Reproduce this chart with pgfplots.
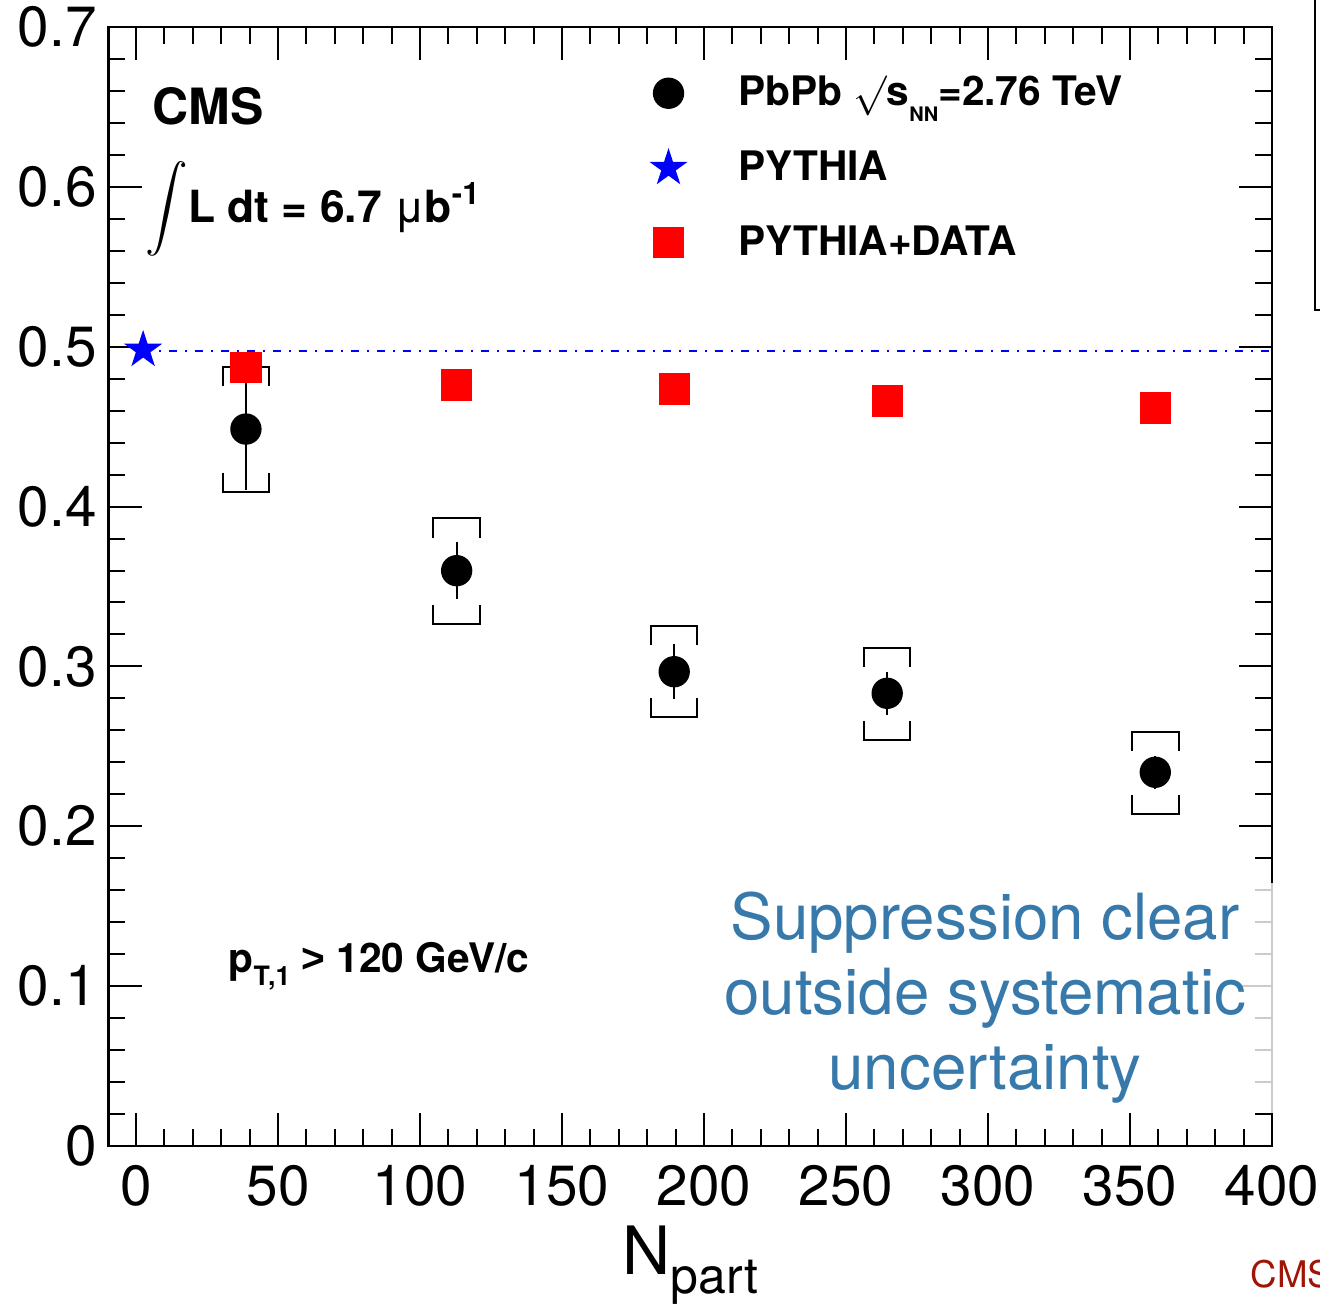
\documentclass[border=0pt]{standalone}
\usepackage{pgfplots}
\pgfplotsset{compat=1.18}
\usepackage{fontspec}
\setmainfont{TeX Gyre Heros}
\usepackage{graphicx}
\definecolor{supblue}{RGB}{54,121,170}
\definecolor{cmsred}{RGB}{160,20,5}
\pgfdeclareplotmark{fstar}{%
  \pgfpathmoveto{\pgfpointpolar{90}{\pgfplotmarksize}}%
  \pgfpathlineto{\pgfpointpolar{126}{0.382\pgfplotmarksize}}%
  \pgfpathlineto{\pgfpointpolar{162}{\pgfplotmarksize}}%
  \pgfpathlineto{\pgfpointpolar{198}{0.382\pgfplotmarksize}}%
  \pgfpathlineto{\pgfpointpolar{234}{\pgfplotmarksize}}%
  \pgfpathlineto{\pgfpointpolar{270}{0.382\pgfplotmarksize}}%
  \pgfpathlineto{\pgfpointpolar{306}{\pgfplotmarksize}}%
  \pgfpathlineto{\pgfpointpolar{342}{0.382\pgfplotmarksize}}%
  \pgfpathlineto{\pgfpointpolar{18}{\pgfplotmarksize}}%
  \pgfpathlineto{\pgfpointpolar{54}{0.382\pgfplotmarksize}}%
  \pgfpathclose\pgfusepathqfill}

\pgfplotstableread{
x y e
38.7 0.4485 0.038
112.9 0.3599 0.018
189.5 0.2967 0.0173
264.5 0.2832 0.0135
358.9 0.2338 0.0102
}\datatab

\pgfplotstableread{
x y
38.7 0.487
112.9 0.476
189.5 0.4735
264.5 0.466
358.9 0.4617
}\pytdata

\pgfplotstableread{
x y
30.5 0.4755
30.5 0.4875
46.9 0.4875
46.9 0.4755
nan nan
30.5 0.4213
30.5 0.4093
46.9 0.4093
46.9 0.4213
nan nan
104.7 0.3806
104.7 0.3926
121.1 0.3926
121.1 0.3806
nan nan
104.7 0.3385
104.7 0.3265
121.1 0.3265
121.1 0.3385
nan nan
181.3 0.3133
181.3 0.3253
197.7 0.3253
197.7 0.3133
nan nan
181.3 0.2802
181.3 0.2682
197.7 0.2682
197.7 0.2802
nan nan
256.3 0.2997
256.3 0.3117
272.7 0.3117
272.7 0.2997
nan nan
256.3 0.266
256.3 0.254
272.7 0.254
272.7 0.266
nan nan
350.7 0.2472
350.7 0.2592
367.1 0.2592
367.1 0.2472
nan nan
350.7 0.2195
350.7 0.2075
367.1 0.2075
367.1 0.2195
}\systab

\begin{document}
\begin{tikzpicture}
\path[use as bounding box] (-32.5pt,-48pt) rectangle (363.5pt,343.8pt);
\clip (-32.5pt,-48pt) rectangle (363.5pt,343.8pt);
\begin{axis}[
  at={(0pt,0pt)}, anchor=south west,
  scale only axis, width=349.1pt, height=335.7pt,
  xmin=-9.75, xmax=400, ymin=0, ymax=0.7,
  xtick={0,50,...,400}, ytick={0,0.1,0.2,0.3,0.4,0.5,0.6,0.7},
  minor x tick num=4, minor y tick num=4,
  major tick length=10pt, minor tick length=5pt,
  tick style={black, line width=0.6pt},
  axis line style={line width=0.7pt},
  clip=false,
  unbounded coords=jump,
  /pgf/number format/assume math mode=true,
  ticklabel style={font=\fontsize{17}{17}\selectfont},
  xticklabel style={yshift=-2.4pt},
  yticklabel style={/pgf/number format/fixed, /pgf/number format/precision=1},
  xlabel={N\raisebox{-0.55ex}{\fontsize{15}{15}\selectfont part}},
  xlabel style={font=\fontsize{20}{20}\selectfont, yshift=1.1pt},
  legend style={draw=none, fill=none, at={(rel axis cs:0.4645,0.963)}, anchor=north west,
    inner sep=0pt, row sep=8pt, font=\bfseries\fontsize{12.2}{14}\selectfont,
    /tikz/every odd column/.append style={column sep=13.2pt}},
  legend cell align=left,
]
\addlegendimage{only marks, mark=*, mark size=4.5pt, black}
\addlegendentry{PbPb $\surd$s\raisebox{-0.7ex}{\fontsize{6}{6}\selectfont NN}=2.76 TeV}
\addlegendimage{only marks, mark=fstar, mark size=6pt, blue}
\addlegendentry{PYTHIA}
\addlegendimage{only marks, mark=square*, mark size=4.5pt, red}
\addlegendentry{PYTHIA+DATA}

\addplot[black, line width=0.6pt, forget plot] table[x=x,y=y] {\systab};
\addplot[blue, line width=0.5pt, dash pattern=on 2.4pt off 2.4pt on 0.6pt off 2.4pt, forget plot] coordinates {(2.5,0.4975) (400,0.4975)};
\addplot[only marks, mark=fstar, mark size=6pt, blue, forget plot] coordinates {(2.5,0.498)};
\addplot[only marks, mark=square*, mark size=4.5pt, red, forget plot] table[x=x,y=y] {\pytdata};
\addplot[only marks, mark=*, mark size=4.5pt, black, forget plot,
  error bars/.cd, y dir=both, y explicit, error mark=none,
  error bar style={line width=0.6pt, black}] table[x=x,y=y,y error=e] {\datatab};

\node[anchor=base west, inner sep=0pt, font=\bfseries\fontsize{15}{15}\selectfont] at (axis cs:5.6,0.6393) {CMS};
\node[anchor=base west, font=\bfseries\fontsize{13.3}{15}\selectfont, inner sep=0pt] at (axis cs:3.2,0.578)
  {\raisebox{-0.8pt}{\scalebox{1.28}{$\displaystyle\int$}}L dt = 6.7 {\mdseries μ}b\textsuperscript{-1}};
\node[anchor=base west, font=\bfseries\fontsize{12.2}{14}\selectfont, inner sep=0pt] at (axis cs:32.4,0.1088)
  {p\raisebox{-0.6ex}{\fontsize{8}{8}\selectfont T,1} {\fontspec{Liberation Sans}\bfseries >} 120 GeV/c};
\node[fill=white, fill opacity=0.8, text opacity=1, text=supblue, align=center,
  minimum width=177pt, minimum height=69pt, inner sep=0pt,
  font=\fontsize{19.1}{22.5}\selectfont] at (axis cs:299,0.0926)
  {Suppression clear\\outside systematic\\uncertainty};
\end{axis}
\draw[line width=0.6pt] (362pt,360pt) -- (362pt,250.8pt) -- (375pt,250.8pt);
\node[anchor=base west, inner sep=0pt, text=cmsred, font=\fontsize{11}{11}\selectfont] at (342.5pt,-42.3pt) {CMS};
\end{tikzpicture}
\end{document}
